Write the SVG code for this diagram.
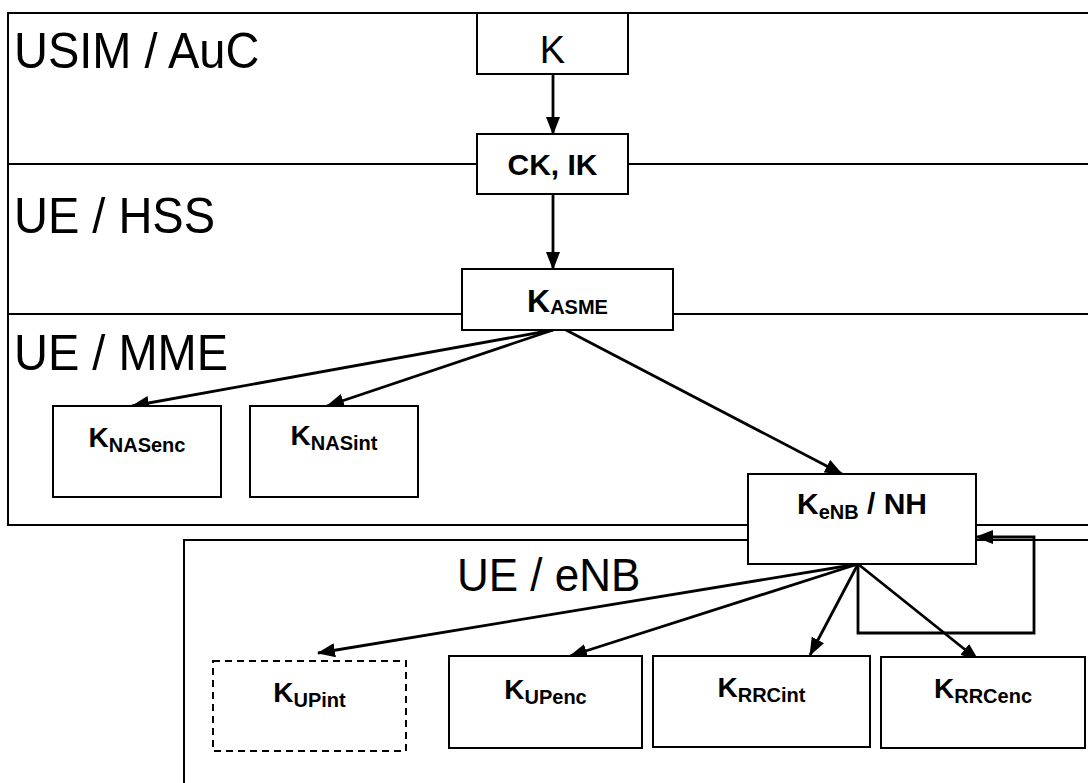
<svg xmlns="http://www.w3.org/2000/svg" width="1088" height="783" viewBox="0 0 1088 783">
<style>
.frame{fill:none;stroke:#000;stroke-width:2}
.box{fill:#fff;stroke:#000;stroke-width:2}
.dash{fill:#fff;stroke:#000;stroke-width:2;stroke-dasharray:7 5}
.conn{fill:none;stroke:#000;stroke-width:2.8}
.region{font-family:"Liberation Sans",Arial,sans-serif;font-size:47px;fill:#000}
.lbl{font-family:"Liberation Sans",Arial,sans-serif;font-weight:bold;font-size:28px;fill:#000;text-anchor:middle}
.sub{font-size:20px}
</style>
<defs>
<marker id="ah" markerUnits="userSpaceOnUse" markerWidth="18" markerHeight="14" refX="17" refY="7" orient="auto">
<path d="M0,0 L18,7 L0,14 Z" fill="#000"/>
</marker>
</defs>
<rect width="1088" height="783" fill="#fff"/>
<g id="frames">
<path class="frame" d="M1088,13 H8 V525 H1088"/>
<line class="frame" x1="8" y1="164" x2="1088" y2="164"/>
<line class="frame" x1="8" y1="314" x2="1088" y2="314"/>
<path class="frame" d="M1088,540 H184 V783"/>
<text class="region" transform="translate(14,68) scale(1,1.07)">USIM / AuC</text>
<text class="region" transform="translate(14,233) scale(1,1.07)">UE / HSS</text>
<text class="region" transform="translate(14,370) scale(1,1.07)">UE / MME</text>
<text class="region" transform="translate(457,591) scale(1,1.07)" style="font-size:44px">UE / eNB</text>
</g>
<g id="connectors">
<line class="conn" x1="553" y1="74" x2="553" y2="134" marker-end="url(#ah)"/>
<line class="conn" x1="553" y1="194" x2="553" y2="269" marker-end="url(#ah)"/>
<line class="conn" x1="553" y1="330" x2="132" y2="406" marker-end="url(#ah)"/>
<line class="conn" x1="553" y1="330" x2="327" y2="406" marker-end="url(#ah)"/>
<line class="conn" x1="566" y1="330" x2="842" y2="474" marker-end="url(#ah)"/>
<line class="conn" x1="858" y1="564" x2="318" y2="653" marker-end="url(#ah)"/>
<line class="conn" x1="858" y1="564" x2="570" y2="656" marker-end="url(#ah)"/>
<line class="conn" x1="858" y1="564" x2="810" y2="655" marker-end="url(#ah)"/>
<line class="conn" x1="858" y1="564" x2="978" y2="660" marker-end="url(#ah)"/>
<path class="conn" d="M858,564 V633 H1034 V537 H976" marker-end="url(#ah)"/>
</g>
<g id="node-K">
<rect class="box" x="477" y="13" width="151" height="61"/>
<text class="lbl" x="552.5" y="63" style="font-weight:normal;font-size:38px">K</text>
</g>
<g id="node-CKIK">
<rect class="box" x="477" y="134" width="151" height="60"/>
<text class="lbl" x="552.5" y="175" style="font-size:30px">CK, IK</text>
</g>
<g id="node-KASME">
<rect class="box" x="462" y="269" width="211" height="61"/>
<text class="lbl" x="567.5" y="312" style="font-size:32px">K<tspan class="sub" dy="2">ASME</tspan></text>
</g>
<g id="node-KNASenc">
<rect class="box" x="53" y="406" width="168" height="91"/>
<text class="lbl" x="137" y="447">K<tspan class="sub" dy="5">NASenc</tspan></text>
</g>
<g id="node-KNASint">
<rect class="box" x="250" y="406" width="168" height="91"/>
<text class="lbl" x="334" y="445">K<tspan class="sub" dy="5">NASint</tspan></text>
</g>
<g id="node-KeNB">
<rect class="box" x="748" y="474" width="228" height="90"/>
<text class="lbl" x="862" y="514" style="font-size:30px">K<tspan class="sub" dy="5">eNB</tspan><tspan dy="-5"> / NH</tspan></text>
</g>
<g id="node-KUPint">
<rect class="dash" x="213" y="661" width="193" height="90"/>
<text class="lbl" x="309.5" y="702">K<tspan class="sub" dy="5">UPint</tspan></text>
</g>
<g id="node-KUPenc">
<rect class="box" x="449" y="656" width="193" height="92"/>
<text class="lbl" x="545.5" y="699">K<tspan class="sub" dy="5">UPenc</tspan></text>
</g>
<g id="node-KRRCint">
<rect class="box" x="653" y="656" width="217" height="91"/>
<text class="lbl" x="761.5" y="697">K<tspan class="sub" dy="5">RRCint</tspan></text>
</g>
<g id="node-KRRCenc">
<rect class="box" x="881" y="657" width="204" height="91"/>
<text class="lbl" x="983" y="698">K<tspan class="sub" dy="5">RRCenc</tspan></text>
</g>
</svg>
